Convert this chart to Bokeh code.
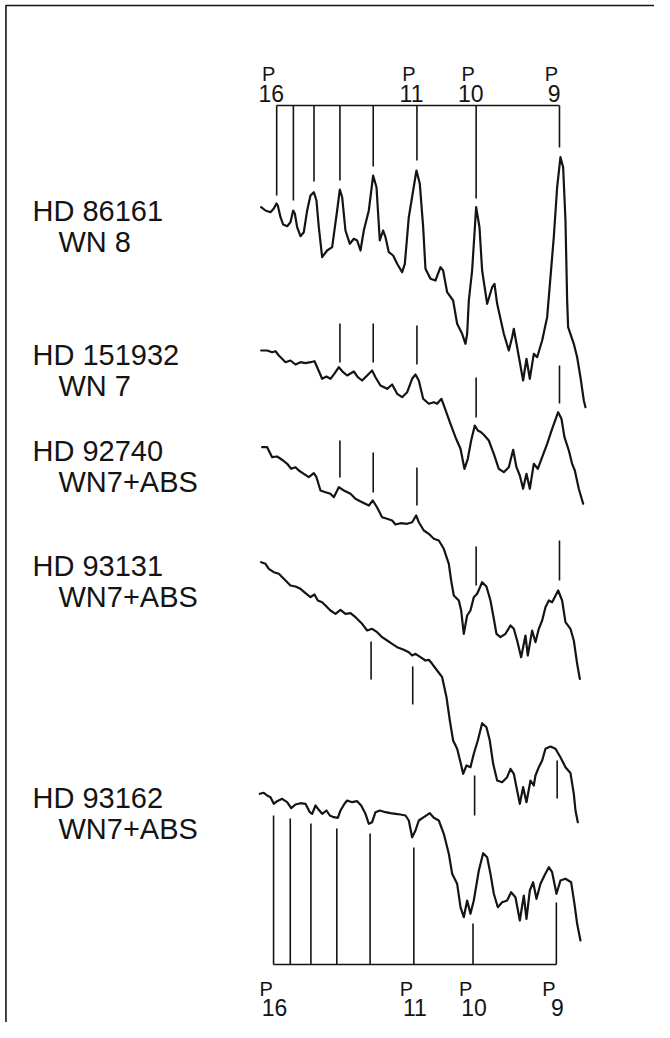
from bokeh.plotting import figure
from bokeh.models import Range1d
from bokeh.core.properties import value
from bokeh.embed import file_html
from bokeh.resources import INLINE

# Paschen lines (wavelength, Angstrom)
paschen_names = ["16", "15", "14", "13", "12", "11", "10", "9"]
paschen_wl = [8502.5, 8545.4, 8598.4, 8665.0, 8750.5, 8862.8, 9014.9, 9229.0]
labelled = ["16", "11", "10", "9"]

stars = ["HD 86161", "HD 151932", "HD 92740", "HD 93131", "HD 93162"]
types = ["WN 8", "WN 7", "WN7+ABS", "WN7+ABS", "WN7+ABS"]

# traced spectra: wavelength (A) and relative flux (arbitrary units, offset per star)
hd86161_wl = [8462.6, 8473.7, 8486.6, 8495.1, 8502.0, 8505.4, 8512.3, 8519.1, 8529.4, 8537.9,
              8544.8, 8549.1, 8555.1, 8563.6, 8572.2, 8580.8, 8589.3, 8597.9, 8604.7, 8610.7,
              8619.3, 8632.1, 8645.0, 8657.8, 8664.7, 8670.7, 8679.2, 8690.4, 8700.6, 8709.2,
              8717.8, 8726.3, 8739.2, 8750.3, 8758.9, 8767.4, 8776.0, 8782.0, 8790.6, 8801.7,
              8812.0, 8824.8, 8831.7, 8841.9, 8853.1, 8861.6, 8870.2, 8878.8, 8884.7, 8897.6,
              8910.4, 8923.3, 8930.1, 8940.4, 8955.8, 8966.1, 8978.9, 8987.5, 8991.8, 8996.1,
              9004.6, 9014.9, 9023.5, 9030.3, 9043.2, 9056.0, 9062.0, 9068.9, 9086.0, 9098.8,
              9107.4, 9111.7, 9120.2, 9135.6, 9144.2, 9152.8, 9163.0, 9171.6, 9184.5, 9197.3,
              9214.4, 9223.0, 9231.5, 9238.4, 9244.4, 9248.7, 9251.2, 9265.8, 9274.4, 9282.9,
              9291.5, 9295.8]
hd86161_f = [793.3, 790, 788.3, 792, 797, 795, 783.3, 776, 774.3, 778.3,
             790, 787, 773.3, 764.3, 768.3, 790, 805, 808.3, 800, 773.3,
             743.3, 750, 753.3, 790, 811, 803.3, 770, 756.7, 761.7, 760,
             750, 770, 790, 825, 813.3, 760, 770, 763.3, 748.3, 745,
             736.7, 728.3, 736.7, 783.3, 810, 830, 816.7, 773.3, 731.7, 721.7,
             720, 733.3, 730, 708.3, 700, 676.7, 666.7, 656.7, 666.7, 700,
             730, 793.3, 773.3, 730, 696.7, 713.3, 716.7, 696.7, 666.7, 650,
             663.3, 671.7, 653.3, 620, 641.7, 621.7, 646.7, 643.3, 660, 683.3,
             763.3, 813.3, 843.3, 833.3, 780, 700, 673.3, 656.7, 643.3, 623.3,
             600, 593.3]

hd151932_wl = [8462.6, 8478.0, 8490.8, 8499.4, 8508.0, 8516.5, 8525.1, 8537.9, 8550.8, 8563.6,
               8576.5, 8589.3, 8599.6, 8608.2, 8619.3, 8630.4, 8640.7, 8651.8, 8662.1, 8673.2,
               8683.5, 8700.6, 8710.9, 8722.0, 8734.9, 8747.7, 8756.3, 8769.1, 8786.3, 8799.1,
               8812.0, 8824.8, 8837.7, 8850.5, 8859.1, 8867.6, 8878.8, 8893.3, 8906.2, 8914.7,
               8925.8, 8933.6, 8947.3, 8961.8, 8974.7, 8984.9, 8993.5, 9002.1, 9011.5, 9019.2,
               9027.7, 9036.3, 9047.4, 9060.3, 9073.1, 9086.0, 9098.8, 9110.0, 9118.5, 9127.1,
               9135.6, 9144.2, 9152.8, 9163.0, 9173.3, 9184.5, 9197.3, 9210.1, 9225.6, 9234.1,
               9241.8, 9253.0, 9261.5, 9268.4, 9278.6, 9289.8]
hd151932_f = [650, 650, 648.3, 649.3, 645, 641.7, 638.3, 640, 636, 638.3,
              637.3, 638.3, 639.3, 631.7, 621.7, 624, 621.7, 627.3, 633.3, 628.3,
              625, 629, 623.3, 620, 625, 630, 623.3, 615, 611.7, 616,
              606.7, 603.3, 608.3, 621.7, 626, 620, 601.7, 596.7, 598.3, 596.7,
              601.7, 593.3, 578.3, 563.3, 551.7, 531.7, 541.7, 560, 575, 570,
              568.3, 565, 560, 546.7, 531.7, 528.3, 533.3, 550.7, 533.3, 525,
              511.7, 526.7, 511.7, 536.7, 531.7, 543.3, 556.7, 571.7, 588.3, 581.7,
              563.3, 550, 536.7, 530, 511.7, 496.7]

hd92740_wl = [8465.2, 8478.0, 8490.8, 8503.7, 8519.1, 8529.4, 8539.7, 8550.8, 8559.4, 8572.2,
              8585.0, 8597.9, 8604.7, 8615.0, 8627.9, 8640.7, 8649.3, 8662.1, 8675.0, 8692.1,
              8704.9, 8722.0, 8739.2, 8749.5, 8760.6, 8773.4, 8786.3, 8799.1, 8807.7, 8820.5,
              8837.7, 8850.5, 8860.8, 8867.6, 8880.5, 8893.3, 8906.2, 8919.0, 8931.8, 8944.7,
              8950.7, 8957.5, 8970.4, 8976.4, 8983.2, 8991.8, 9000.3, 9008.9, 9017.5, 9030.3,
              9041.4, 9051.7, 9060.3, 9067.1, 9077.4, 9090.3, 9103.1, 9111.7, 9120.2, 9130.5,
              9141.6, 9147.6, 9158.8, 9167.3, 9175.9, 9184.5, 9193.0, 9201.6, 9210.1, 9225.6,
              9235.8, 9244.4, 9257.2, 9265.8, 9274.4, 9281.2]
hd92740_f = [553.3, 553.3, 543.3, 544, 540, 536.7, 531.7, 533.3, 530, 526.7,
             523.3, 527.3, 523.3, 510, 508.3, 506.7, 503.3, 513.3, 510, 506.7,
             501.7, 498.3, 495, 500, 493, 483.3, 481.7, 480, 476, 477.3,
             476.7, 478.3, 485, 478.3, 470, 466.7, 461.7, 460, 451.7, 436.7,
             420, 405, 400, 390, 366.7, 385, 390, 403.3, 406.7, 418.3,
             414, 400, 381.7, 366.7, 363.3, 366.7, 375, 371.7, 360, 343.3,
             365, 345, 370, 358.3, 371.7, 380, 393.3, 400, 398.3, 410,
             400, 378.3, 371.7, 360, 336.7, 321.7]

hd93131_wl = [8462.6, 8473.7, 8482.3, 8495.1, 8508.0, 8520.8, 8537.9, 8550.8, 8563.6, 8576.5,
              8589.3, 8599.6, 8608.2, 8619.3, 8630.4, 8640.7, 8653.5, 8666.4, 8679.2, 8692.1,
              8704.9, 8722.0, 8734.9, 8747.7, 8760.6, 8773.4, 8786.3, 8799.1, 8812.0, 8829.1,
              8841.9, 8850.5, 8859.1, 8871.9, 8884.7, 8893.3, 8901.9, 8914.7, 8927.6, 8938.7,
              8947.3, 8955.8, 8966.1, 8974.7, 8981.5, 8990.1, 9000.3, 9008.9, 9019.2, 9030.3,
              9041.4, 9050.0, 9058.6, 9068.9, 9081.7, 9094.5, 9103.1, 9111.7, 9120.2, 9127.1,
              9135.6, 9144.2, 9154.5, 9163.0, 9167.3, 9175.9, 9184.5, 9193.0, 9205.9, 9218.7,
              9231.5, 9244.4, 9257.2, 9265.8, 9270.1, 9276.1]
hd93131_f = [438.3, 436.7, 431.7, 428.3, 426.7, 421.7, 415, 414, 411.7, 407.3,
             403.3, 406, 400, 398.3, 394, 390, 386.7, 390.7, 386.7, 387.3,
             383.3, 376.7, 370, 371.7, 368.3, 363.3, 360, 356.7, 353.3, 350.7,
             348.3, 345, 346.7, 343.3, 340, 340.7, 336.7, 330, 323.3, 303.3,
             280, 260, 251.7, 238.3, 226.7, 235, 233.3, 246.7, 260, 277.3,
             273.3, 260, 236.7, 220, 218.3, 223.3, 231.7, 226.7, 210, 196.7,
             213.3, 198.3, 220, 215, 225, 233.3, 240, 251.7, 254, 251.7,
             243.3, 233.3, 227.5, 206.7, 190, 178.3]

hd93162_wl = [8459.2, 8469.4, 8478.0, 8486.6, 8495.1, 8503.7, 8516.5, 8529.4, 8539.7, 8550.8,
              8563.6, 8576.5, 8587.6, 8593.6, 8602.2, 8610.7, 8619.3, 8630.4, 8639.0, 8649.3,
              8659.5, 8666.4, 8676.7, 8683.5, 8696.4, 8709.2, 8719.5, 8730.6, 8739.2, 8747.7,
              8756.3, 8767.4, 8782.0, 8794.8, 8807.7, 8820.5, 8833.4, 8841.9, 8850.5, 8859.1,
              8867.6, 8880.5, 8895.9, 8906.2, 8919.0, 8931.8, 8944.7, 8953.3, 8966.1, 8974.7,
              8983.2, 8991.8, 9000.3, 9008.9, 9021.8, 9032.9, 9043.2, 9051.7, 9060.3, 9070.6,
              9081.7, 9094.5, 9104.8, 9115.9, 9127.1, 9137.4, 9144.2, 9152.8, 9161.3, 9169.9,
              9180.2, 9190.4, 9201.6, 9210.1, 9221.3, 9231.5, 9244.4, 9258.9, 9267.5, 9274.4,
              9282.9]
hd93162_f = [206.7, 207.7, 205, 203.3, 196.7, 199.3, 201.7, 198.3, 192.3, 196,
             197.3, 196.7, 188.3, 186.7, 195, 190.7, 186.7, 190, 185, 183.3,
             182.7, 190, 196.7, 200, 198.3, 199.3, 195, 186.7, 176.7, 178.3,
             188.3, 190, 188.3, 187.3, 186.7, 186, 185, 180, 163.3, 170,
             180, 183.3, 187.3, 182.7, 180, 166.7, 146.7, 126.7, 116.7, 93.3,
             83.3, 100, 86.7, 100, 130, 147.3, 143.3, 126.7, 106.7, 93.3,
             98.3, 100, 108.3, 103.3, 80, 105, 81.7, 110, 118.3, 101.7,
             116.7, 125, 133.3, 128.3, 106.7, 120, 121.7, 118.3, 96.7, 76.7,
             60]

# line-identification marks (flux at upper and lower end of each tick)
top_tick_end = [805, 800, 819, 820, 834, 840, 802, 853]
bottom_tick_end = [185, 182, 177, 172, 167, 153, 77, 98]

hd151932_mark_wl = [8665.0, 8750.5, 8862.8, 9014.9, 9229.0]
hd151932_mark_hi = [677, 677, 675, 623, 635]
hd151932_mark_lo = [638, 638, 636, 583, 597]
hd92740_mark_wl = [8665.0, 8750.5, 8862.8, 9014.9, 9229.0]
hd92740_mark_hi = [560, 548, 533, 454, 460]
hd92740_mark_lo = [523, 508, 495, 415, 420]
hd93131_mark_wl = [8745.0, 8852.0, 9011.0, 9223.0]
hd93131_mark_hi = [359, 334, 225, 240]
hd93131_mark_lo = [321, 296, 185, 202]

# ---------------------------------------------------------------- layout
INK = "#141414"
FONT = value("Liberation Sans")
X0, X1 = 7793.0, 9473.1
Y0, Y1 = -22, 1000

p = figure(width=654, height=1022, output_backend="svg", toolbar_location=None,
           x_range=Range1d(X0, X1), y_range=Range1d(Y0, Y1),
           x_axis_type=None, y_axis_type=None, min_border=0,
           background_fill_color="white", border_fill_color="white")
p.outline_line_color = None
p.grid.visible = False

# scan frame (left and top edges)
p.line([X0 + 14, X0 + 14, X1], [Y0, Y1 - 5, Y1 - 5], line_color=INK, line_width=1.6)

# spectra
traces = [(hd86161_wl, hd86161_f), (hd151932_wl, hd151932_f), (hd92740_wl, hd92740_f),
          (hd93131_wl, hd93131_f), (hd93162_wl, hd93162_f)]
for wl, fl in traces:
    p.line(wl, fl, line_color=INK, line_width=2.2, line_join="round", line_cap="round")

# top bracket
TOP = 895
p.segment(x0=[paschen_wl[0]], y0=[TOP], x1=[paschen_wl[-1]], y1=[TOP], line_color=INK, line_width=1.6)
p.segment(x0=paschen_wl, y0=[TOP] * len(paschen_wl), x1=paschen_wl, y1=top_tick_end,
          line_color=INK, line_width=1.6)

# bottom bracket (drawn slightly offset, as on the original)
BOT = 36
SHIFT = -8.0
bwl = [w + SHIFT for w in paschen_wl]
p.segment(x0=[bwl[0]], y0=[BOT], x1=[bwl[-1]], y1=[BOT], line_color=INK, line_width=1.6)
p.segment(x0=bwl, y0=[BOT] * len(bwl), x1=bwl, y1=bottom_tick_end, line_color=INK, line_width=1.6)

# per-star marks
for mw, mh, ml in [(hd151932_mark_wl, hd151932_mark_hi, hd151932_mark_lo),
                   (hd92740_mark_wl, hd92740_mark_hi, hd92740_mark_lo),
                   (hd93131_mark_wl, hd93131_mark_hi, hd93131_mark_lo)]:
    p.segment(x0=mw, y0=mh, x1=mw, y1=ml, line_color=INK, line_width=1.6)

# Paschen labels
lw = [paschen_wl[paschen_names.index(n)] for n in labelled]
p.text(x=[w - 20.5 for w in lw], y=[927] * len(lw), text=["P"] * len(lw),
       text_font=FONT, text_font_size="20px", text_align="center",
       text_baseline="alphabetic", text_color=INK)
p.text(x=[w - 14 for w in lw], y=[907] * len(lw), text=labelled,
       text_font=FONT, text_font_size="23px", text_align="center",
       text_baseline="alphabetic", text_color=INK)
p.text(x=[w - 27 for w in lw], y=[12] * len(lw), text=["P"] * len(lw),
       text_font=FONT, text_font_size="20px", text_align="center",
       text_baseline="alphabetic", text_color=INK)
p.text(x=[w - 5.4 for w in lw], y=[-7] * len(lw), text=labelled,
       text_font=FONT, text_font_size="23px", text_align="center",
       text_baseline="alphabetic", text_color=INK)

# star names and spectral types
starts = [fl[0] for _, fl in traces]
p.text(x=[7875.2] * len(stars), y=[s - 4 for s in starts], text=stars,
       text_font=FONT, text_font_size="29px", text_align="left",
       text_baseline="alphabetic", text_color=INK)
p.text(x=[7941.9] * len(types), y=[s - 35 for s in starts], text=types,
       text_font=FONT, text_font_size="29px", text_align="left",
       text_baseline="alphabetic", text_color=INK)

open("out.html", "w").write(file_html(p, INLINE))
